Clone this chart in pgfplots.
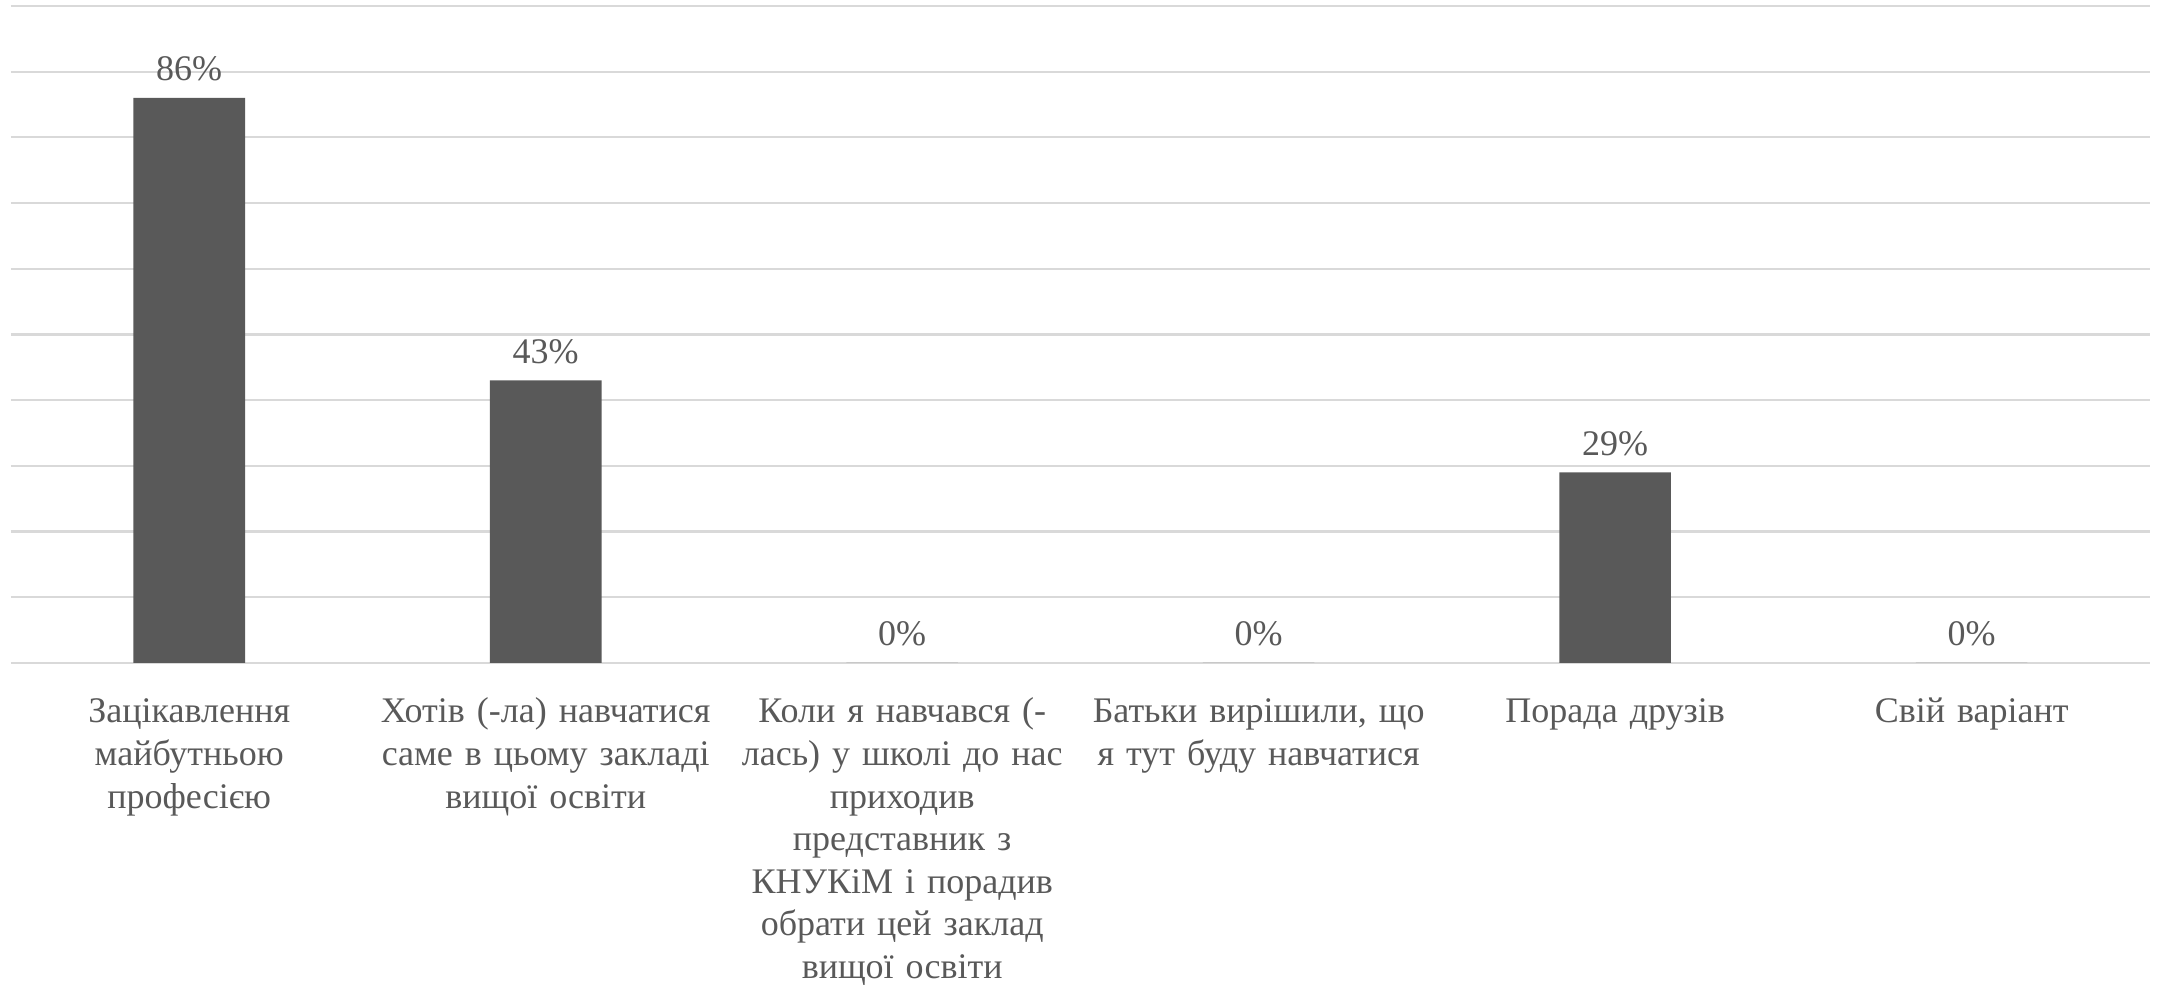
\documentclass[border=0pt]{standalone}
\usepackage{fontspec}
\setmainfont{Liberation Serif}
\usepackage{pgfplots}
\pgfplotsset{compat=1.18}
\definecolor{barc}{HTML}{595959}
\definecolor{gridc}{HTML}{D9D9D9}
\definecolor{txt}{HTML}{595959}
\begin{document}
\begin{tikzpicture}
\begin{axis}[
  at={(5.5pt,161pt)}, anchor=south west,
  scale only axis, width=1069.5pt, height=328.5pt,
  xmin=-0.5, xmax=5.5, ymin=0, ymax=100,
  ytick={0,10,...,100}, yticklabels={,,,,,,,,,,},
  ymajorgrids, grid style={gridc, line width=1.1pt},
  axis line style={draw=none}, major tick length=0pt,
  tick style={draw=none},
  /pgf/number format/assume math mode=true,
  xtick={0,1,2,3,4,5},
  xticklabels={
    {Зацікавлення\\майбутньою\\професією},
    {Хотів (-ла) навчатися\\саме в цьому закладі\\вищої освіти},
    {Коли я навчався (-\\лась) у школі до нас\\приходив\\представник з\\КНУКіМ і порадив\\обрати цей заклад\\вищої освіти},
    {Батьки вирішили, що\\я тут буду навчатися},
    {Порада друзів},
    {Свій варіант}},
  xticklabel style={anchor=base, yshift=-30pt, inner sep=0pt,
    text width=180pt, align=center, text=txt,
    font=\fontsize{18}{21.3}\selectfont},
  ybar, bar width=55.8pt,
  nodes near coords={\pgfmathprintnumber{\pgfplotspointmeta}\%},
  every node near coord/.append style={anchor=base, yshift=8.6pt, inner sep=0pt,
    text=txt, font=\fontsize{18}{21.3}\selectfont},
]
\addplot[fill=barc, draw=none] coordinates {(0,86) (1,43) (2,0) (3,0) (4,29) (5,0)};
\end{axis}
\pgfresetboundingbox
\path (0,0) rectangle (1082pt,492.5pt);
\end{tikzpicture}
\end{document}
